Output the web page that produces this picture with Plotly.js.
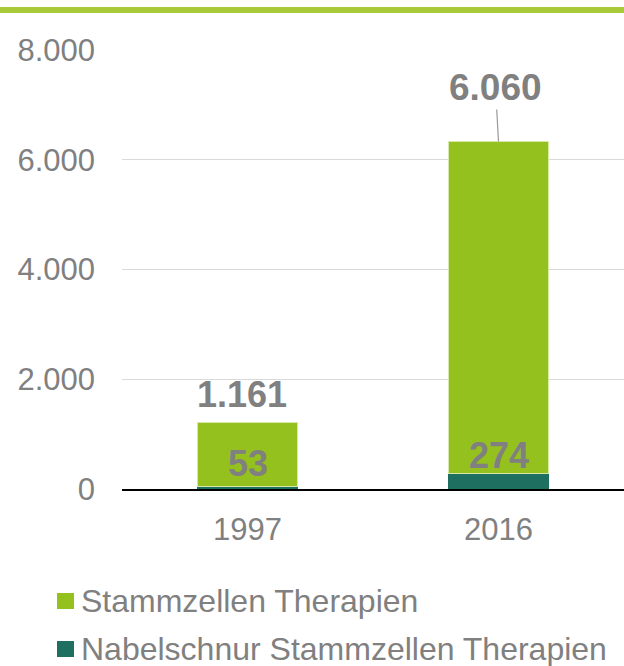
<!DOCTYPE html>
<html>
<head>
<meta charset="utf-8">
<script src="https://cdn.plot.ly/plotly-3.0.1.min.js"></script>
<style>
  html, body { margin: 0; padding: 0; background: #ffffff; }
  #chart { width: 624px; height: 666px; }
</style>
</head>
<body>
<div id="chart"></div>
<script>
// ---- data ----
const categories = ["1997", "2016"];
const seriesNames = ["Stammzellen Therapien", "Nabelschnur Stammzellen Therapien"];
const stammzellen = [1161, 6060];
const nabelschnur = [53, 274];
const yTicks = [0, 2000, 4000, 6000, 8000];

// ---- styles ----
const FONT = "Liberation Sans, Arial, sans-serif";
const GRAY = "#808080";
const GREEN = "#95c11f";
const TEAL = "#1f6f60";

const fmt = v => String(v).replace(/\B(?=(\d{3})+(?!\d))/g, ".");

const traces = [
  {
    type: "bar", name: seriesNames[1], x: categories, y: nabelschnur,
    marker: { color: TEAL }, hoverinfo: "x+y+name"
  },
  {
    type: "bar", name: seriesNames[0], x: categories, y: stammzellen,
    marker: { color: GREEN, line: { color: "#d8e8a8", width: 1 } }, hoverinfo: "x+y+name"
  }
];

const totals = categories.map((c, i) => stammzellen[i] + nabelschnur[i]);

const annotations = [];
// stem cell labels (above bars)
annotations.push({
  x: 0, y: totals[0], xref: "x", yref: "y",
  text: "<b>" + fmt(stammzellen[0]) + "</b>", showarrow: false,
  yanchor: "middle", yshift: 28, xshift: -6,
  font: { family: FONT, size: 36, color: GRAY }
});
annotations.push({
  x: 1, y: totals[1], xref: "x", yref: "y",
  text: "<b>" + fmt(stammzellen[1]) + "</b>", showarrow: true,
  arrowhead: 0, arrowwidth: 1.2, arrowcolor: "#999999",
  ax: -3, ay: -54, standoff: 0,
  font: { family: FONT, size: 37, color: GRAY }
});
// cord blood labels inside bar
const innerShift = [26, 34];
categories.forEach((c, i) => {
  annotations.push({
    x: i, y: 0, xref: "x", yref: "y",
    text: "<b>" + fmt(nabelschnur[i]) + "</b>", showarrow: false,
    yanchor: "middle", yshift: innerShift[i],
    font: { family: FONT, size: 36, color: GRAY }
  });
});

// custom legend
const legendColors = [GREEN, TEAL];
const legendY = [601, 649];
const plotTop = 50, plotH = 439, plotLeft = 122, plotW = 502;
const py = px => 1 - (px - plotTop) / plotH;
const pxx = px => (px - plotLeft) / plotW;

const shapes = [
  // top green rule
  { type: "line", xref: "paper", yref: "paper", x0: pxx(0), x1: pxx(624), y0: py(10), y1: py(10),
    line: { color: "#a8c93a", width: 6 } }
];
seriesNames.forEach((n, i) => {
  shapes.push({
    type: "rect", xref: "paper", yref: "paper",
    x0: pxx(57), x1: pxx(74), y0: py(legendY[i] - 8), y1: py(legendY[i] + 8),
    fillcolor: legendColors[i], line: { width: 0 }
  });
  annotations.push({
    xref: "paper", yref: "paper", x: pxx(79), y: py(legendY[i]),
    xanchor: "left", yanchor: "middle", showarrow: false, text: n,
    font: { family: FONT, size: 32, color: GRAY }
  });
});

const layout = {
  width: 624, height: 666,
  margin: { l: plotLeft, r: 0, t: plotTop, b: 666 - plotTop - plotH },
  paper_bgcolor: "#ffffff", plot_bgcolor: "#ffffff",
  barmode: "stack", bargap: 0.6,
  separators: ",.",
  showlegend: false,
  font: { family: FONT, color: GRAY },
  xaxis: {
    type: "category", range: [-0.5, 1.5], showgrid: false, zeroline: false,
    showline: true, linecolor: "#000000", linewidth: 2,
    ticks: "", tickfont: { family: FONT, size: 31, color: GRAY },
    ticklabelstandoff: 12
  },
  yaxis: {
    range: [0, 8000], tickvals: yTicks, tickformat: ",d",
    showgrid: true, gridcolor: "#d9d9d9", gridwidth: 1, zeroline: false,
    showline: false, ticks: "", tickfont: { family: FONT, size: 31, color: GRAY },
    ticklabelstandoff: 26
  },
  shapes: shapes,
  annotations: annotations
};

Plotly.newPlot("chart", traces, layout, { displayModeBar: false, staticPlot: true });
</script>
</body>
</html>
